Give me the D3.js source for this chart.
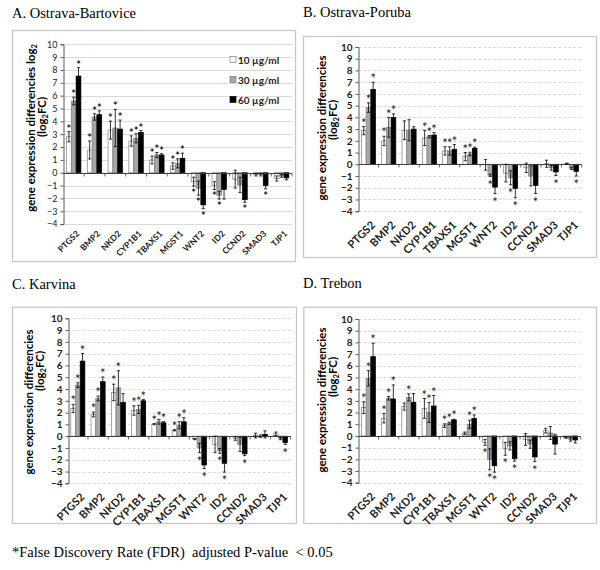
<!DOCTYPE html>
<html><head><meta charset="utf-8">
<script src="https://cdn.jsdelivr.net/npm/d3@7"></script>
<style>body{margin:0;background:#fff}svg{display:block}</style>
</head><body>
<svg id="c" width="600" height="570"></svg>
<script>
// ---------- DATA ----------
const genes = ["PTGS2","BMP2","NKD2","CYP1B1","TBAXS1","MGST1","WNT2","ID2","CCND2","SMAD3","TJP1"];
const seriesLabels = ["10 µg/ml","30 µg/ml","60 µg/ml"];
const yTicks = [-4,-3,-2,-1,0,1,2,3,4,5,6,7,8,9,10];
const panelTitles = ["A. Ostrava-Bartovice","B. Ostrava-Poruba","C. Karvina","D. Trebon"];
const footnote = "*False Discovery Rate (FDR)  adjusted P-value  < 0.05";

// values[series][gene]
const valuesA = [
  [2.8,1.77,3.32,2.47,0.99,0.52,-0.7,-1.0,-0.5,-0.15,-0.45],
  [5.58,4.34,3.48,2.68,1.38,0.73,-1.2,-1.75,-0.95,-0.15,-0.25],
  [7.53,4.52,3.4,3.14,1.38,1.12,-2.5,-1.3,-2.1,-1.0,-0.4]];
const errorsA = [
  [0.4,0.7,0.7,0.4,0.3,0.25,0.35,0.3,0.7,0.1,0.2],
  [0.3,0.25,1.45,0.35,0.2,0.35,0.55,0.3,0.6,0.1,0.1],
  [0.65,0.3,0.7,0.15,0.1,0.4,0.3,0.75,0.2,0.25,0.15]];
const starsA = [
  [1,1,1,1,1,1,1,1,0,0,0],
  [1,1,1,1,1,1,1,1,0,0,0],
  [1,1,1,1,1,1,1,0,1,1,0]];

const valuesB = [
  [2.87,1.99,2.9,2.24,1.14,0.65,-0.05,-0.75,-0.3,0.05,0.05],
  [4.83,3.15,2.9,2.36,1.14,0.88,-0.95,-1.15,-1.0,-0.3,-0.35],
  [6.39,4.0,3.0,2.5,1.28,1.36,-1.95,-2.05,-1.8,-0.65,-0.6]];
const errorsB = [
  [0.35,0.4,0.8,0.65,0.35,0.35,0.45,0.75,0.4,0.3,0.05],
  [0.4,0.85,0.9,0.1,0.35,0.15,0.1,0.6,0.85,0.2,0.1],
  [0.6,0.3,0.2,0.2,0.4,0.1,0.55,0.8,0.7,0.3,0.4]];
const starsB = [
  [1,1,0,1,1,1,0,0,0,0,0],
  [1,1,0,1,1,1,1,1,0,0,0],
  [1,1,0,1,1,1,1,1,1,1,1]];

const valuesC = [
  [2.35,1.84,3.71,2.18,1.02,0.5,-0.25,-0.7,-0.2,0.05,0.2],
  [4.33,3.2,4.1,2.27,1.22,0.93,-1.0,-1.25,-0.7,0.0,-0.2],
  [6.37,4.62,2.86,3.0,1.13,1.22,-2.45,-2.3,-1.5,0.15,-0.55]];
const errorsC = [
  [0.35,0.2,0.7,0.4,0.05,0.05,0.05,0.7,0.15,0.2,0.15],
  [0.2,0.2,1.45,0.35,0.2,0.3,0.4,0.2,0.6,0.1,0.1],
  [0.65,0.4,0.75,0.1,0.1,0.35,0.3,0.75,0.15,0.3,0.15]];
const starsC = [
  [1,1,1,1,1,1,0,0,0,0,0],
  [1,1,1,1,1,1,1,1,0,0,0],
  [1,1,0,1,1,1,1,1,1,0,1]];

const valuesD = [
  [2.42,1.51,2.51,2.36,0.88,0.23,-0.55,-1.1,-0.3,0.45,-0.15],
  [4.93,3.22,3.3,2.0,1.08,1.0,-2.0,-0.85,-0.7,0.25,-0.3],
  [6.78,3.16,2.88,2.56,1.37,1.5,-2.55,-1.95,-1.8,-0.7,-0.35]];
const errorsD = [
  [0.5,0.4,0.3,0.85,0.15,0.1,0.25,0.55,0.5,0.2,0.05],
  [0.65,0.15,0.3,0.85,0.1,0.35,0.9,0.35,0.35,0.55,0.15],
  [1.15,1.2,0.75,0.9,0.05,0.3,0.55,0.2,0.4,0.85,0.25]];
const starsD = [
  [1,1,0,1,1,0,1,1,0,0,0],
  [1,1,1,1,1,1,1,0,0,0,0],
  [1,1,0,1,1,1,1,1,1,0,0]];

// ---------- LAYOUT ----------
const panels = [
  {title:panelTitles[0], tx:12, ty:18, frame:[12,30,296,262], x0:63.3, x1:292, yT:44.3, yB:224.1,
   vals:valuesA, errs:errorsA, stars:starsA, small:true, legend:true,
   lab:[{x:34.5,y:128,t:"A1"},{x:45.5,y:117,t:"L2"}]},
  {title:panelTitles[1], tx:303, ty:17, frame:[303,36,597,258], x0:358.3, x1:581.7, yT:47, yB:211.2,
   vals:valuesB, errs:errorsB, stars:starsB, small:false, legend:false,
   lab:[{x:325.5,y:128,t:"L1"},{x:337,y:120,t:"L2"}]},
  {title:panelTitles[2], tx:12, ty:289, frame:[12,306.7,297,524], x0:67.7, x1:290.7, yT:318.3, yB:483.3,
   vals:valuesC, errs:errorsC, stars:starsC, small:false, legend:false,
   lab:[{x:32.5,y:402,t:"L1"},{x:44,y:371,t:"L2"}]},
  {title:panelTitles[3], tx:303, ty:288, frame:[303.3,306.7,597,524], x0:358.3, x1:580.7, yT:319, yB:482.7,
   vals:valuesD, errs:errorsD, stars:starsD, small:false, legend:false,
   lab:[{x:325.5,y:400,t:"L1"},{x:337,y:377,t:"L2"}]}
];
const fills = ["#ffffff","#a6a6a6","#000000"];
const strokes = ["#7f7f7f","#7f7f7f","#000000"];
const sans = "Lato, 'Open Sans', sans-serif";
const serif = "'Liberation Serif', 'Times New Roman', serif";

const svg = d3.select("#c");

panels.forEach(p => {
  const g = svg.append("g");
  g.append("text").attr("x",p.tx).attr("y",p.ty).attr("font-family",serif).attr("font-size",14.5)
    .attr("fill","#000").text(p.title);
  const [fx0,fy0,fx1,fy1] = p.frame;
  g.append("rect").attr("x",fx0+0.5).attr("y",fy0+0.5).attr("width",fx1-fx0-1).attr("height",fy1-fy0-1)
    .attr("fill","none").attr("stroke","#c8c8c8").attr("stroke-width",1.3);

  const y = d3.scaleLinear().domain([-4,10]).range([p.yB,p.yT]);
  const x = d3.scaleBand().domain(genes).range([p.x0,p.x1]).paddingInner(0).paddingOuter(0);
  const xs = d3.scaleBand().domain([0,1,2]).range([0,x.bandwidth()]).paddingInner(0).paddingOuter(0.66);

  g.append("g").selectAll("line").data(yTicks.filter(t=>t!==0)).join("line")
    .attr("x1",p.x0).attr("x2",p.x1).attr("y1",d=>Math.round(y(d))+0.5).attr("y2",d=>Math.round(y(d))+0.5)
    .attr("stroke","#d0d0d0").attr("stroke-width",0.8).attr("stroke-dasharray",p.small?null:"3,2");

  const fs = p.small ? 9 : 10;
  const ya = d3.axisLeft(y).tickValues(yTicks).tickSize(3).tickPadding(3);
  const yg = g.append("g").attr("transform",`translate(${Math.round(p.x0)+0.5},0)`).call(ya);
  yg.select(".domain").attr("stroke","#595959");
  yg.selectAll(".tick line").attr("stroke","#595959");
  yg.selectAll("text").attr("font-family",sans).attr("font-size",fs).attr("font-weight",p.small?"normal":"bold").attr("fill","#222");

  p.vals.forEach((ser,si) => {
    g.append("g").selectAll("rect").data(ser).join("rect")
      .attr("x",(d,i)=>x(genes[i])+xs(si))
      .attr("width",xs.bandwidth())
      .attr("y",d=>y(Math.max(0,d)))
      .attr("height",d=>Math.abs(y(d)-y(0)))
      .attr("fill",fills[si]).attr("stroke",strokes[si]).attr("stroke-width",0.7);
  });

  const y0 = Math.round(y(0))+0.5;
  g.append("line").attr("x1",p.x0).attr("x2",p.x1).attr("y1",y0).attr("y2",y0).attr("stroke","#404040").attr("stroke-width",1);
  g.append("g").selectAll("line").data(genes).join("line")
    .attr("x1",d=>x(d)+x.bandwidth()).attr("x2",d=>x(d)+x.bandwidth())
    .attr("y1",y0).attr("y2",y0+3).attr("stroke","#404040").attr("stroke-width",0.8);

  const sfs = p.small ? 11 : 13;
  p.vals.forEach((ser,si) => {
    ser.forEach((v,i) => {
      const e = p.errs[si][i];
      const cx = x(genes[i])+xs(si)+xs.bandwidth()/2;
      const hi = y(v+e), lo = y(v-e);
      const eg = g.append("g").attr("stroke","#000").attr("stroke-width",0.8);
      eg.append("line").attr("x1",cx).attr("x2",cx).attr("y1",hi).attr("y2",lo);
      eg.append("line").attr("x1",cx-1.6).attr("x2",cx+1.6).attr("y1",hi).attr("y2",hi);
      eg.append("line").attr("x1",cx-1.6).attr("x2",cx+1.6).attr("y1",lo).attr("y2",lo);
      if (p.stars[si][i]) {
        const off = p.small ? 5 : 6;
        const sc = v >= 0 ? hi - off : lo + off;
        g.append("text").attr("x",cx).attr("y",sc + sfs*0.55).attr("text-anchor","middle")
          .attr("font-family",sans).attr("font-size",sfs).attr("font-weight",p.small?"bold":"normal")
          .attr("fill","#222").text("*");
      }
    });
  });

  const xfs = p.small ? 8.5 : 11;
  g.append("g").selectAll("text").data(genes).join("text")
    .attr("transform",d=>`translate(${x(d)+x.bandwidth()/2+2},${p.yB+(p.small?6:9)}) rotate(-45)`)
    .attr("text-anchor","end").attr("dy","0.7em")
    .attr("font-family",sans).attr("font-size",xfs).attr("font-weight","bold").attr("fill","#222")
    .text(d=>d);

  const lfs = 11.5;
  p.lab.forEach(l => {
    const t = g.append("text").attr("transform",`translate(${l.x},${l.y}) rotate(-90)`)
      .attr("text-anchor","middle").attr("font-family",sans).attr("font-size",lfs).attr("font-weight","bold").attr("fill","#000");
    if (l.t === "L2") {
      t.append("tspan").text("(log");
      t.append("tspan").attr("font-size",lfs*0.65).attr("dy",2).text("2");
      t.append("tspan").attr("dy",-2).text("FC)");
    } else if (l.t === "A1") {
      t.append("tspan").text("gene expression differencies log");
      t.append("tspan").attr("font-size",lfs*0.65).attr("dy",2).text("2");
    } else {
      t.text("gene expression differencies");
    }
  });

  if (p.legend) {
    const lg = g.append("g");
    seriesLabels.forEach((s,si) => {
      const ly = 60 + si*20;
      lg.append("rect").attr("x",230).attr("y",ly-3.5).attr("width",6).attr("height",6)
        .attr("fill",fills[si]).attr("stroke",strokes[si]).attr("stroke-width",0.7);
      lg.append("text").attr("x",238).attr("y",ly+3.5).attr("font-family",sans).attr("font-size",10)
        .attr("font-weight","bold").attr("fill","#222").text(s);
    });
  }
});

svg.append("text").attr("x",12).attr("y",557).attr("font-family",serif).attr("font-size",14.5)
  .attr("fill","#000").attr("xml:space","preserve").style("white-space","pre").text(footnote);
</script>
</body></html>
